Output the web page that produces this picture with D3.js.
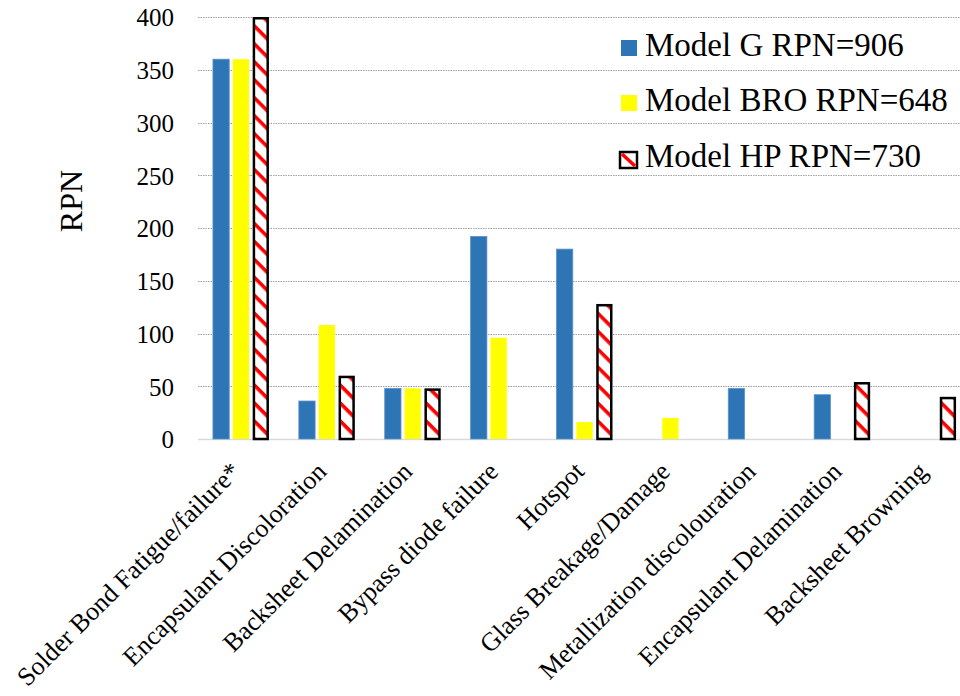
<!DOCTYPE html>
<html>
<head>
<meta charset="utf-8">
<script src="https://cdn.jsdelivr.net/npm/d3@7"></script>
<style>
  html, body { margin: 0; padding: 0; background: #ffffff; }
  svg { display: block; }
  svg text { font-family: "Liberation Serif", "Times New Roman", Times, serif; fill: #000; }
</style>
</head>
<body>
<div id="chart"></div>
<script>
const categories = [
  "Solder Bond Fatigue/failure*",
  "Encapsulant Discoloration",
  "Backsheet Delamination",
  "Bypass diode failure",
  "Hotspot",
  "Glass Breakage/Damage",
  "Metallization discolouration",
  "Encapsulant Delamination",
  "Backsheet Browning"
];
const seriesNames = ["Model G RPN=906", "Model BRO RPN=648", "Model HP RPN=730"];
const modelG   = [360, 36, 48, 192, 180, 0, 48, 42, 0];
const modelBRO = [360, 108, 48, 96, 16, 20, 0, 0, 0];
const modelHP  = [400, 60, 48, 0, 128, 0, 0, 54, 40];
const yTicks = [0, 50, 100, 150, 200, 250, 300, 350, 400];
const yTitle = "RPN";

const W = 960, H = 696;
const plot = { left: 198, right: 971, top: 17, bottom: 439 };
const FONT = "'Liberation Serif', 'Times New Roman', Times, serif";

const svg = d3.select("#chart").append("svg")
  .attr("width", W).attr("height", H)
  .attr("viewBox", `0 0 ${W} ${H}`)
  .style("overflow", "hidden");

const defs = svg.append("defs");
const pat = defs.append("pattern")
  .attr("id", "hpStripe")
  .attr("patternUnits", "userSpaceOnUse")
  .attr("width", 12.7).attr("height", 12.7)
  .attr("patternTransform", "rotate(45)");
pat.append("rect").attr("width", 12.7).attr("height", 12.7).attr("fill", "#ffffff");
pat.append("rect").attr("x", 0).attr("y", 0).attr("width", 12.7).attr("height", 3.6).attr("fill", "#ff0000");

const x = d3.scaleBand().domain(categories).range([plot.left, plot.right]).paddingInner(0).paddingOuter(0);
const groupInner = 56;
const xs = d3.scaleBand().domain(seriesNames).range([0, groupInner]).paddingInner(0.18).paddingOuter(0);
const y = d3.scaleLinear().domain([0, 400]).range([plot.bottom, plot.top]);

// gridlines
const grid = svg.append("g");
grid.selectAll("line").data(yTicks.filter(d => d > 0)).join("line")
  .attr("x1", plot.left).attr("x2", W)
  .attr("y1", d => Math.round(y(d)) + 0.5).attr("y2", d => Math.round(y(d)) + 0.5)
  .attr("stroke", "#a0a0a0").attr("stroke-width", 1).attr("stroke-dasharray", "1.5,1");

// axis baseline
svg.append("line")
  .attr("x1", plot.left).attr("x2", W)
  .attr("y1", Math.round(y(0)) + 0.5).attr("y2", Math.round(y(0)) + 0.5)
  .attr("stroke", "#d9d9d9").attr("stroke-width", 1.5);

// y axis labels via d3 axis
const yAxis = d3.axisLeft(y).tickValues(yTicks).tickSize(0).tickPadding(0);
const yg = svg.append("g").attr("transform", `translate(174,0)`).call(yAxis);
yg.attr("font-family", FONT).attr("font-size", 25);
yg.select(".domain").remove();
yg.selectAll("text").attr("fill", "#000").attr("dy", "0.35em");

// y title
svg.append("text")
  .attr("transform", "translate(82,201) rotate(-90)")
  .attr("text-anchor", "middle")
  .attr("font-family", FONT)
  .attr("font-size", 32)
  .text(yTitle);

// bars
const data = [modelG, modelBRO, modelHP];
const fills = ["#2e75b6", "#ffff00", "url(#hpStripe)"];
const groups = svg.append("g").selectAll("g").data(categories).join("g")
  .attr("transform", d => `translate(${x(d) + (x.bandwidth() - groupInner) / 2},0)`);

groups.each(function(cat, ci) {
  const g = d3.select(this);
  seriesNames.forEach((s, si) => {
    const v = data[si][ci];
    if (!v) return;
    const bw = xs.bandwidth();
    const r = g.append("rect")
      .attr("x", xs(s)).attr("width", bw)
      .attr("y", y(v)).attr("height", y(0) - y(v))
      .attr("fill", fills[si]);
    if (si === 2) {
      r.attr("x", xs(s) + 1.25).attr("width", bw - 2.5)
       .attr("y", y(v) + 1.25).attr("height", y(0) - y(v) - 1.25)
       .attr("stroke", "#000").attr("stroke-width", 2.5);
    } else if (si === 0) {
      r.attr("stroke", "#5b93c9").attr("stroke-width", 0.8);
    }
  });
});

// x labels
svg.append("g").selectAll("text").data(categories).join("text")
  .attr("transform", d => `translate(${x(d) + x.bandwidth() / 2 + 1},473) rotate(-45)`)
  .attr("text-anchor", "end")
  .attr("font-family", FONT)
  .attr("font-size", 26)
  .text(d => d);

// legend
const legendRows = [
  { name: seriesNames[0], base: 56, fill: "#2e75b6" },
  { name: seriesNames[1], base: 111, fill: "#ffff00" },
  { name: seriesNames[2], base: 167, fill: "hp" }
];
const lg = svg.append("g");
legendRows.forEach(r => {
  if (r.fill === "hp") {
    lg.append("rect").attr("x", 620).attr("y", r.base - 15).attr("width", 17).attr("height", 16)
      .attr("fill", "#fff").attr("stroke", "#000").attr("stroke-width", 2.5);
    lg.append("line").attr("x1", 622).attr("y1", r.base - 13).attr("x2", 635).attr("y2", r.base - 1)
      .attr("stroke", "#ff0000").attr("stroke-width", 3.5);
  } else {
    lg.append("rect").attr("x", 621).attr("y", r.base - 16).attr("width", 16).attr("height", 16)
      .attr("fill", r.fill);
  }
  lg.append("text").attr("x", 645).attr("y", r.base).attr("font-family", FONT).attr("font-size", 33).text(r.name);
});
</script>
</body>
</html>
